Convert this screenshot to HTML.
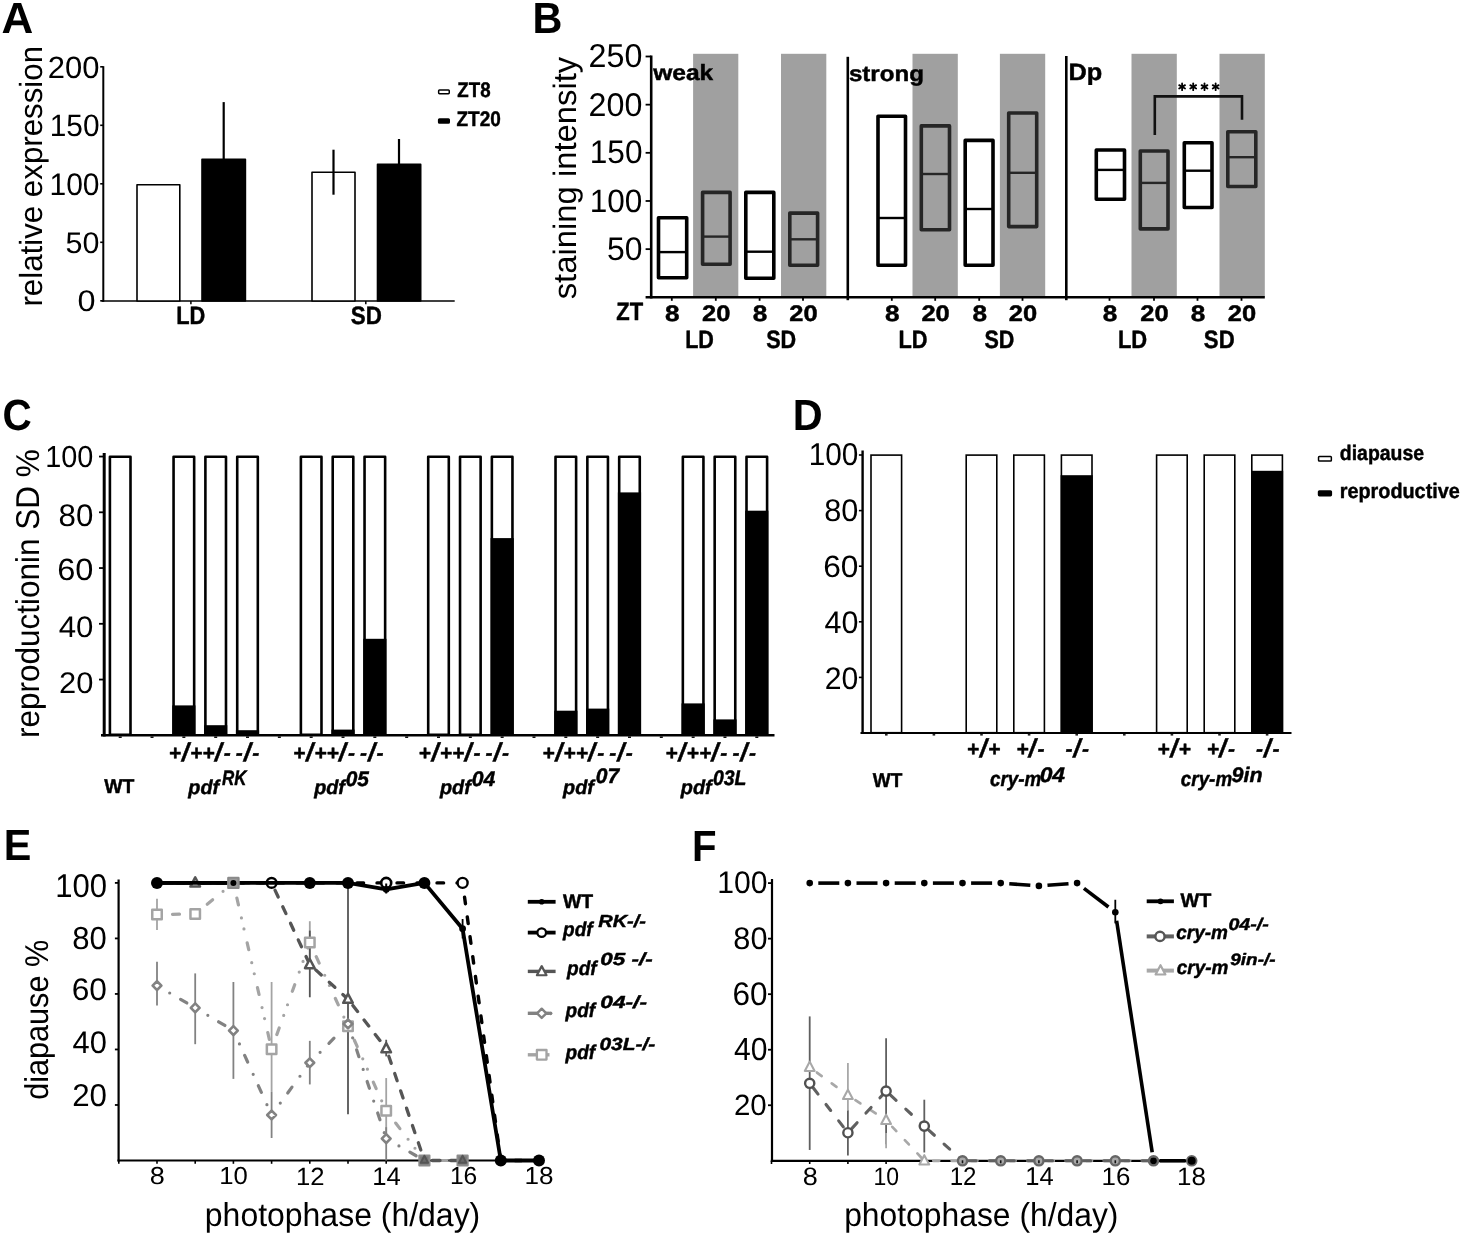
<!DOCTYPE html>
<html><head><meta charset="utf-8"><title>Figure</title>
<style>
html,body{margin:0;padding:0;background:#fff;}
svg{display:block;filter:grayscale(1);}
svg text{font-family:"Liberation Sans", sans-serif;font-kerning:none;}
</style></head>
<body>
<svg width="1462" height="1237" viewBox="0 0 1462 1237" text-rendering="geometricPrecision">
<rect x="0" y="0" width="1462" height="1237" fill="#fff"/>
<text x="1.41" y="32.50" font-size="43.6" font-weight="bold" textLength="31.75" lengthAdjust="spacingAndGlyphs">A</text>
<text x="532.44" y="32.60" font-size="43.6" font-weight="bold" textLength="29.84" lengthAdjust="spacingAndGlyphs">B</text>
<text x="2.44" y="430.00" font-size="43.6" font-weight="bold" textLength="29.27" lengthAdjust="spacingAndGlyphs">C</text>
<text x="792.83" y="430.00" font-size="43.6" font-weight="bold" textLength="29.91" lengthAdjust="spacingAndGlyphs">D</text>
<text x="3.83" y="860.00" font-size="43.6" font-weight="bold" textLength="27.58" lengthAdjust="spacingAndGlyphs">E</text>
<text x="692.11" y="860.50" font-size="43.6" font-weight="bold" textLength="24.56" lengthAdjust="spacingAndGlyphs">F</text>
<line x1="103.30" y1="66.20" x2="103.30" y2="301.80" stroke="#000" stroke-width="2" />
<line x1="100.20" y1="300.80" x2="103.30" y2="300.80" stroke="#000" stroke-width="1.6" />
<line x1="100.20" y1="242.30" x2="103.30" y2="242.30" stroke="#000" stroke-width="1.6" />
<line x1="100.20" y1="183.80" x2="103.30" y2="183.80" stroke="#000" stroke-width="1.6" />
<line x1="100.20" y1="125.30" x2="103.30" y2="125.30" stroke="#000" stroke-width="1.6" />
<line x1="100.20" y1="66.80" x2="103.30" y2="66.80" stroke="#000" stroke-width="1.6" />
<text x="47.74" y="77.60" font-size="30.79" textLength="51.67" lengthAdjust="spacingAndGlyphs">200</text>
<text x="49.72" y="136.10" font-size="30.93" textLength="49.84" lengthAdjust="spacingAndGlyphs">150</text>
<text x="49.51" y="194.60" font-size="31.21" textLength="50.06" lengthAdjust="spacingAndGlyphs">100</text>
<text x="65.48" y="252.51" font-size="29.8" textLength="33.91" lengthAdjust="spacingAndGlyphs">50</text>
<text x="77.63" y="311.41" font-size="29.8" textLength="18.03" lengthAdjust="spacingAndGlyphs">0</text>
<line x1="101.50" y1="301.00" x2="454.70" y2="301.00" stroke="#000" stroke-width="1.7" />
<line x1="190.90" y1="301.00" x2="190.90" y2="304.20" stroke="#000" stroke-width="1.5" />
<line x1="365.80" y1="301.00" x2="365.80" y2="304.20" stroke="#000" stroke-width="1.5" />
<line x1="223.70" y1="102.10" x2="223.70" y2="160.00" stroke="#000" stroke-width="2.2" />
<line x1="399.00" y1="139.00" x2="399.00" y2="165.00" stroke="#000" stroke-width="2.2" />
<rect x="137.00" y="184.80" width="42.80" height="116.20" fill="#fff" stroke="#000" stroke-width="1.6" stroke-linejoin="round"/>
<rect x="202.00" y="159.20" width="43.40" height="141.80" fill="#000" stroke="#000" stroke-width="1.6" stroke-linejoin="round"/>
<rect x="312.00" y="172.20" width="43.00" height="128.80" fill="#fff" stroke="#000" stroke-width="1.6" stroke-linejoin="round"/>
<rect x="377.50" y="164.40" width="43.20" height="136.60" fill="#000" stroke="#000" stroke-width="1.6" stroke-linejoin="round"/>
<line x1="333.50" y1="149.70" x2="333.50" y2="194.70" stroke="#000" stroke-width="2.2" />
<text x="176.24" y="324.20" font-size="25" font-weight="bold" textLength="29.07" lengthAdjust="spacingAndGlyphs" stroke="#000" stroke-width="0.45" stroke-linejoin="round">LD</text>
<text x="350.76" y="324.20" font-size="25" font-weight="bold" textLength="31.08" lengthAdjust="spacingAndGlyphs" stroke="#000" stroke-width="0.45" stroke-linejoin="round">SD</text>
<text x="0" y="0" font-size="32" textLength="260.61" lengthAdjust="spacingAndGlyphs" transform="translate(42.40,306.58) rotate(-90)">relative expression</text>
<rect x="438.65" y="90.05" width="10.60" height="3.60" fill="#fff" stroke="#000" stroke-width="1.5" rx="0.8"/>
<rect x="438.65" y="119.05" width="10.60" height="4.00" fill="#000" stroke="#000" stroke-width="1.5" rx="0.8"/>
<text x="457.34" y="96.70" font-size="21" font-weight="bold" textLength="33.23" lengthAdjust="spacingAndGlyphs" stroke="#000" stroke-width="0.45" stroke-linejoin="round">ZT8</text>
<text x="456.43" y="126.20" font-size="21" font-weight="bold" textLength="44.35" lengthAdjust="spacingAndGlyphs" stroke="#000" stroke-width="0.45" stroke-linejoin="round">ZT20</text>
<rect x="693.10" y="53.80" width="45.20" height="243.50" fill="#a0a0a0"/>
<rect x="781.00" y="53.80" width="45.30" height="243.50" fill="#a0a0a0"/>
<rect x="912.50" y="53.80" width="45.30" height="243.50" fill="#a0a0a0"/>
<rect x="999.90" y="53.80" width="45.30" height="243.50" fill="#a0a0a0"/>
<rect x="1131.50" y="53.80" width="45.30" height="243.50" fill="#a0a0a0"/>
<rect x="1219.50" y="53.80" width="45.30" height="243.50" fill="#a0a0a0"/>
<line x1="651.20" y1="55.50" x2="651.20" y2="298.50" stroke="#000" stroke-width="2.6" />
<line x1="645.60" y1="249.14" x2="651.20" y2="249.14" stroke="#000" stroke-width="1.8" />
<line x1="645.60" y1="200.98" x2="651.20" y2="200.98" stroke="#000" stroke-width="1.8" />
<line x1="645.60" y1="152.82" x2="651.20" y2="152.82" stroke="#000" stroke-width="1.8" />
<line x1="645.60" y1="104.66" x2="651.20" y2="104.66" stroke="#000" stroke-width="1.8" />
<line x1="645.60" y1="56.50" x2="651.20" y2="56.50" stroke="#000" stroke-width="1.8" />
<text x="588.58" y="67.18" font-size="33.05" textLength="53.78" lengthAdjust="spacingAndGlyphs">250</text>
<text x="588.58" y="115.88" font-size="32.91" textLength="53.78" lengthAdjust="spacingAndGlyphs">200</text>
<text x="589.79" y="163.28" font-size="32.63" textLength="52.74" lengthAdjust="spacingAndGlyphs">150</text>
<text x="589.70" y="212.08" font-size="32.34" textLength="52.64" lengthAdjust="spacingAndGlyphs">100</text>
<text x="606.93" y="259.78" font-size="32.77" textLength="35.42" lengthAdjust="spacingAndGlyphs">50</text>
<line x1="645.60" y1="297.30" x2="1264.80" y2="297.30" stroke="#000" stroke-width="2.6" />
<line x1="847.80" y1="56.80" x2="847.80" y2="300.20" stroke="#000" stroke-width="2.6" />
<line x1="1066.30" y1="56.00" x2="1066.30" y2="300.20" stroke="#000" stroke-width="2.6" />
<rect x="658.50" y="217.80" width="28.20" height="59.90" fill="#fff" stroke="#000" stroke-width="3.6" stroke-linejoin="round"/>
<line x1="658.70" y1="252.10" x2="686.50" y2="252.10" stroke="#000" stroke-width="2.4" />
<rect x="702.60" y="192.40" width="27.50" height="71.90" fill="#a0a0a0" stroke="#262626" stroke-width="3.6" stroke-linejoin="round"/>
<line x1="702.80" y1="236.60" x2="729.90" y2="236.60" stroke="#262626" stroke-width="2.4" />
<rect x="745.80" y="192.40" width="28.00" height="85.80" fill="#fff" stroke="#000" stroke-width="3.6" stroke-linejoin="round"/>
<line x1="746.00" y1="251.70" x2="773.60" y2="251.70" stroke="#000" stroke-width="2.4" />
<rect x="789.80" y="213.10" width="27.80" height="52.10" fill="#a0a0a0" stroke="#262626" stroke-width="3.6" stroke-linejoin="round"/>
<line x1="790.00" y1="239.30" x2="817.40" y2="239.30" stroke="#262626" stroke-width="2.4" />
<rect x="878.00" y="116.30" width="27.50" height="148.90" fill="#fff" stroke="#000" stroke-width="3.6" stroke-linejoin="round"/>
<line x1="878.20" y1="218.00" x2="905.30" y2="218.00" stroke="#000" stroke-width="2.4" />
<rect x="921.30" y="125.90" width="28.20" height="103.80" fill="#a0a0a0" stroke="#262626" stroke-width="3.6" stroke-linejoin="round"/>
<line x1="921.50" y1="174.00" x2="949.30" y2="174.00" stroke="#262626" stroke-width="2.4" />
<rect x="965.20" y="140.40" width="27.80" height="124.80" fill="#fff" stroke="#000" stroke-width="3.6" stroke-linejoin="round"/>
<line x1="965.40" y1="209.00" x2="992.80" y2="209.00" stroke="#000" stroke-width="2.4" />
<rect x="1008.70" y="113.00" width="28.00" height="113.60" fill="#a0a0a0" stroke="#262626" stroke-width="3.6" stroke-linejoin="round"/>
<line x1="1008.90" y1="172.80" x2="1036.50" y2="172.80" stroke="#262626" stroke-width="2.4" />
<rect x="1096.30" y="150.00" width="28.20" height="49.20" fill="#fff" stroke="#000" stroke-width="3.6" stroke-linejoin="round"/>
<line x1="1096.50" y1="169.90" x2="1124.30" y2="169.90" stroke="#000" stroke-width="2.4" />
<rect x="1140.30" y="151.00" width="27.70" height="77.90" fill="#a0a0a0" stroke="#262626" stroke-width="3.6" stroke-linejoin="round"/>
<line x1="1140.50" y1="182.90" x2="1167.80" y2="182.90" stroke="#262626" stroke-width="2.4" />
<rect x="1184.30" y="142.80" width="27.70" height="64.70" fill="#fff" stroke="#000" stroke-width="3.6" stroke-linejoin="round"/>
<line x1="1184.50" y1="170.70" x2="1211.80" y2="170.70" stroke="#000" stroke-width="2.4" />
<rect x="1227.80" y="131.80" width="28.00" height="54.70" fill="#a0a0a0" stroke="#262626" stroke-width="3.6" stroke-linejoin="round"/>
<line x1="1228.00" y1="157.20" x2="1255.60" y2="157.20" stroke="#262626" stroke-width="2.4" />
<line x1="671.80" y1="297.30" x2="671.80" y2="300.80" stroke="#000" stroke-width="1.8" />
<line x1="715.80" y1="297.30" x2="715.80" y2="300.80" stroke="#000" stroke-width="1.8" />
<line x1="759.60" y1="297.30" x2="759.60" y2="300.80" stroke="#000" stroke-width="1.8" />
<line x1="803.00" y1="297.30" x2="803.00" y2="300.80" stroke="#000" stroke-width="1.8" />
<line x1="891.80" y1="297.30" x2="891.80" y2="300.80" stroke="#000" stroke-width="1.8" />
<line x1="935.20" y1="297.30" x2="935.20" y2="300.80" stroke="#000" stroke-width="1.8" />
<line x1="979.20" y1="297.30" x2="979.20" y2="300.80" stroke="#000" stroke-width="1.8" />
<line x1="1022.50" y1="297.30" x2="1022.50" y2="300.80" stroke="#000" stroke-width="1.8" />
<line x1="1109.50" y1="297.30" x2="1109.50" y2="300.80" stroke="#000" stroke-width="1.8" />
<line x1="1154.00" y1="297.30" x2="1154.00" y2="300.80" stroke="#000" stroke-width="1.8" />
<line x1="1197.50" y1="297.30" x2="1197.50" y2="300.80" stroke="#000" stroke-width="1.8" />
<line x1="1241.50" y1="297.30" x2="1241.50" y2="300.80" stroke="#000" stroke-width="1.8" />
<text x="665.07" y="320.80" font-size="22.5" font-weight="bold" textLength="14.53" lengthAdjust="spacingAndGlyphs" stroke="#000" stroke-width="0.45" stroke-linejoin="round">8</text>
<text x="702.02" y="320.80" font-size="22.5" font-weight="bold" textLength="28.33" lengthAdjust="spacingAndGlyphs" stroke="#000" stroke-width="0.45" stroke-linejoin="round">20</text>
<text x="752.87" y="320.80" font-size="22.5" font-weight="bold" textLength="14.53" lengthAdjust="spacingAndGlyphs" stroke="#000" stroke-width="0.45" stroke-linejoin="round">8</text>
<text x="789.22" y="320.80" font-size="22.5" font-weight="bold" textLength="28.33" lengthAdjust="spacingAndGlyphs" stroke="#000" stroke-width="0.45" stroke-linejoin="round">20</text>
<text x="885.07" y="320.80" font-size="22.5" font-weight="bold" textLength="14.53" lengthAdjust="spacingAndGlyphs" stroke="#000" stroke-width="0.45" stroke-linejoin="round">8</text>
<text x="921.42" y="320.80" font-size="22.5" font-weight="bold" textLength="28.33" lengthAdjust="spacingAndGlyphs" stroke="#000" stroke-width="0.45" stroke-linejoin="round">20</text>
<text x="972.47" y="320.80" font-size="22.5" font-weight="bold" textLength="14.53" lengthAdjust="spacingAndGlyphs" stroke="#000" stroke-width="0.45" stroke-linejoin="round">8</text>
<text x="1008.72" y="320.80" font-size="22.5" font-weight="bold" textLength="28.33" lengthAdjust="spacingAndGlyphs" stroke="#000" stroke-width="0.45" stroke-linejoin="round">20</text>
<text x="1102.77" y="320.80" font-size="22.5" font-weight="bold" textLength="14.53" lengthAdjust="spacingAndGlyphs" stroke="#000" stroke-width="0.45" stroke-linejoin="round">8</text>
<text x="1140.22" y="320.80" font-size="22.5" font-weight="bold" textLength="28.33" lengthAdjust="spacingAndGlyphs" stroke="#000" stroke-width="0.45" stroke-linejoin="round">20</text>
<text x="1190.77" y="320.80" font-size="22.5" font-weight="bold" textLength="14.53" lengthAdjust="spacingAndGlyphs" stroke="#000" stroke-width="0.45" stroke-linejoin="round">8</text>
<text x="1227.72" y="320.80" font-size="22.5" font-weight="bold" textLength="28.33" lengthAdjust="spacingAndGlyphs" stroke="#000" stroke-width="0.45" stroke-linejoin="round">20</text>
<text x="616.34" y="320.40" font-size="25" font-weight="bold" textLength="26.89" lengthAdjust="spacingAndGlyphs" stroke="#000" stroke-width="0.45" stroke-linejoin="round">ZT</text>
<text x="685.16" y="348.00" font-size="25" font-weight="bold" textLength="28.75" lengthAdjust="spacingAndGlyphs" stroke="#000" stroke-width="0.45" stroke-linejoin="round">LD</text>
<text x="898.54" y="348.00" font-size="25" font-weight="bold" textLength="29.07" lengthAdjust="spacingAndGlyphs" stroke="#000" stroke-width="0.45" stroke-linejoin="round">LD</text>
<text x="1117.93" y="348.00" font-size="25" font-weight="bold" textLength="29.29" lengthAdjust="spacingAndGlyphs" stroke="#000" stroke-width="0.45" stroke-linejoin="round">LD</text>
<text x="766.18" y="348.00" font-size="25" font-weight="bold" textLength="30.03" lengthAdjust="spacingAndGlyphs" stroke="#000" stroke-width="0.45" stroke-linejoin="round">SD</text>
<text x="984.38" y="348.00" font-size="25" font-weight="bold" textLength="29.93" lengthAdjust="spacingAndGlyphs" stroke="#000" stroke-width="0.45" stroke-linejoin="round">SD</text>
<text x="1203.86" y="348.00" font-size="25" font-weight="bold" textLength="30.77" lengthAdjust="spacingAndGlyphs" stroke="#000" stroke-width="0.45" stroke-linejoin="round">SD</text>
<text x="653.17" y="80.00" font-size="22" font-weight="bold" textLength="60.10" lengthAdjust="spacingAndGlyphs" stroke="#000" stroke-width="0.45" stroke-linejoin="round">weak</text>
<text x="848.95" y="81.40" font-size="22" font-weight="bold" textLength="74.96" lengthAdjust="spacingAndGlyphs" stroke="#000" stroke-width="0.45" stroke-linejoin="round">strong</text>
<text x="1068.51" y="80.10" font-size="23.5" font-weight="bold" textLength="33.73" lengthAdjust="spacingAndGlyphs" stroke="#000" stroke-width="0.45" stroke-linejoin="round">Dp</text>
<text x="0" y="0" font-size="32.4" textLength="242.58" lengthAdjust="spacingAndGlyphs" transform="translate(575.80,299.31) rotate(-90)">staining intensity</text>
<polyline points="1154.8,135 1154.8,96.4 1242,96.4 1242,119.7" fill="none" stroke="#111" stroke-width="2.6"/>
<line x1="1182.10" y1="83.40" x2="1182.10" y2="90.20" stroke="#000" stroke-width="1.8" stroke-linecap="round"/>
<line x1="1179.16" y1="85.10" x2="1185.04" y2="88.50" stroke="#000" stroke-width="1.8" stroke-linecap="round"/>
<line x1="1179.16" y1="88.50" x2="1185.04" y2="85.10" stroke="#000" stroke-width="1.8" stroke-linecap="round"/>
<line x1="1193.20" y1="83.40" x2="1193.20" y2="90.20" stroke="#000" stroke-width="1.8" stroke-linecap="round"/>
<line x1="1190.26" y1="85.10" x2="1196.14" y2="88.50" stroke="#000" stroke-width="1.8" stroke-linecap="round"/>
<line x1="1190.26" y1="88.50" x2="1196.14" y2="85.10" stroke="#000" stroke-width="1.8" stroke-linecap="round"/>
<line x1="1204.50" y1="83.40" x2="1204.50" y2="90.20" stroke="#000" stroke-width="1.8" stroke-linecap="round"/>
<line x1="1201.56" y1="85.10" x2="1207.44" y2="88.50" stroke="#000" stroke-width="1.8" stroke-linecap="round"/>
<line x1="1201.56" y1="88.50" x2="1207.44" y2="85.10" stroke="#000" stroke-width="1.8" stroke-linecap="round"/>
<line x1="1215.65" y1="83.40" x2="1215.65" y2="90.20" stroke="#000" stroke-width="1.8" stroke-linecap="round"/>
<line x1="1212.71" y1="85.10" x2="1218.59" y2="88.50" stroke="#000" stroke-width="1.8" stroke-linecap="round"/>
<line x1="1212.71" y1="88.50" x2="1218.59" y2="85.10" stroke="#000" stroke-width="1.8" stroke-linecap="round"/>
<line x1="104.20" y1="453.00" x2="104.20" y2="736.50" stroke="#000" stroke-width="3.0" />
<line x1="99.00" y1="679.55" x2="104.20" y2="679.55" stroke="#000" stroke-width="1.8" />
<line x1="99.00" y1="623.80" x2="104.20" y2="623.80" stroke="#000" stroke-width="1.8" />
<line x1="99.00" y1="568.05" x2="104.20" y2="568.05" stroke="#000" stroke-width="1.8" />
<line x1="99.00" y1="512.30" x2="104.20" y2="512.30" stroke="#000" stroke-width="1.8" />
<line x1="99.00" y1="456.55" x2="104.20" y2="456.55" stroke="#000" stroke-width="1.8" />
<text x="45.20" y="467.10" font-size="30.37" textLength="48.12" lengthAdjust="spacingAndGlyphs">100</text>
<text x="58.64" y="526.00" font-size="31.21" textLength="34.78" lengthAdjust="spacingAndGlyphs">80</text>
<text x="57.25" y="580.30" font-size="30.65" textLength="36.23" lengthAdjust="spacingAndGlyphs">60</text>
<text x="58.68" y="636.51" font-size="29.66" textLength="34.74" lengthAdjust="spacingAndGlyphs">40</text>
<text x="59.05" y="693.41" font-size="29.8" textLength="34.36" lengthAdjust="spacingAndGlyphs">20</text>
<line x1="101.00" y1="735.30" x2="774.50" y2="735.30" stroke="#000" stroke-width="2.6" />
<line x1="120.20" y1="736.40" x2="120.20" y2="738.00" stroke="#111" stroke-width="3.0" />
<line x1="152.03" y1="736.40" x2="152.03" y2="738.00" stroke="#111" stroke-width="3.0" />
<line x1="183.86" y1="736.40" x2="183.86" y2="738.00" stroke="#111" stroke-width="3.0" />
<line x1="215.69" y1="736.40" x2="215.69" y2="738.00" stroke="#111" stroke-width="3.0" />
<line x1="247.52" y1="736.40" x2="247.52" y2="738.00" stroke="#111" stroke-width="3.0" />
<line x1="279.35" y1="736.40" x2="279.35" y2="738.00" stroke="#111" stroke-width="3.0" />
<line x1="311.18" y1="736.40" x2="311.18" y2="738.00" stroke="#111" stroke-width="3.0" />
<line x1="343.01" y1="736.40" x2="343.01" y2="738.00" stroke="#111" stroke-width="3.0" />
<line x1="374.84" y1="736.40" x2="374.84" y2="738.00" stroke="#111" stroke-width="3.0" />
<line x1="406.67" y1="736.40" x2="406.67" y2="738.00" stroke="#111" stroke-width="3.0" />
<line x1="438.50" y1="736.40" x2="438.50" y2="738.00" stroke="#111" stroke-width="3.0" />
<line x1="470.33" y1="736.40" x2="470.33" y2="738.00" stroke="#111" stroke-width="3.0" />
<line x1="502.16" y1="736.40" x2="502.16" y2="738.00" stroke="#111" stroke-width="3.0" />
<line x1="533.99" y1="736.40" x2="533.99" y2="738.00" stroke="#111" stroke-width="3.0" />
<line x1="565.82" y1="736.40" x2="565.82" y2="738.00" stroke="#111" stroke-width="3.0" />
<line x1="597.65" y1="736.40" x2="597.65" y2="738.00" stroke="#111" stroke-width="3.0" />
<line x1="629.48" y1="736.40" x2="629.48" y2="738.00" stroke="#111" stroke-width="3.0" />
<line x1="661.31" y1="736.40" x2="661.31" y2="738.00" stroke="#111" stroke-width="3.0" />
<line x1="693.14" y1="736.40" x2="693.14" y2="738.00" stroke="#111" stroke-width="3.0" />
<line x1="724.97" y1="736.40" x2="724.97" y2="738.00" stroke="#111" stroke-width="3.0" />
<line x1="756.80" y1="736.40" x2="756.80" y2="738.00" stroke="#111" stroke-width="3.0" />
<rect x="109.90" y="456.70" width="20.60" height="278.00" fill="#fff" stroke="#000" stroke-width="2.6" stroke-linejoin="round"/>
<rect x="173.56" y="456.70" width="20.60" height="278.00" fill="#fff" stroke="#000" stroke-width="2.6" stroke-linejoin="round"/>
<rect x="172.26" y="705.40" width="23.20" height="29.90" fill="#000"/>
<rect x="205.39" y="456.70" width="20.60" height="278.00" fill="#fff" stroke="#000" stroke-width="2.6" stroke-linejoin="round"/>
<rect x="204.09" y="725.20" width="23.20" height="10.10" fill="#000"/>
<rect x="237.22" y="456.70" width="20.60" height="278.00" fill="#fff" stroke="#000" stroke-width="2.6" stroke-linejoin="round"/>
<rect x="235.92" y="730.20" width="23.20" height="5.10" fill="#000"/>
<rect x="300.88" y="456.70" width="20.60" height="278.00" fill="#fff" stroke="#000" stroke-width="2.6" stroke-linejoin="round"/>
<rect x="332.71" y="456.70" width="20.60" height="278.00" fill="#fff" stroke="#000" stroke-width="2.6" stroke-linejoin="round"/>
<rect x="331.41" y="729.60" width="23.20" height="5.70" fill="#000"/>
<rect x="364.54" y="456.70" width="20.60" height="278.00" fill="#fff" stroke="#000" stroke-width="2.6" stroke-linejoin="round"/>
<rect x="363.24" y="638.80" width="23.20" height="96.50" fill="#000"/>
<rect x="428.20" y="456.70" width="20.60" height="278.00" fill="#fff" stroke="#000" stroke-width="2.6" stroke-linejoin="round"/>
<rect x="460.03" y="456.70" width="20.60" height="278.00" fill="#fff" stroke="#000" stroke-width="2.6" stroke-linejoin="round"/>
<rect x="491.86" y="456.70" width="20.60" height="278.00" fill="#fff" stroke="#000" stroke-width="2.6" stroke-linejoin="round"/>
<rect x="490.56" y="538.10" width="23.20" height="197.20" fill="#000"/>
<rect x="555.52" y="456.70" width="20.60" height="278.00" fill="#fff" stroke="#000" stroke-width="2.6" stroke-linejoin="round"/>
<rect x="554.22" y="710.70" width="23.20" height="24.60" fill="#000"/>
<rect x="587.35" y="456.70" width="20.60" height="278.00" fill="#fff" stroke="#000" stroke-width="2.6" stroke-linejoin="round"/>
<rect x="586.05" y="708.60" width="23.20" height="26.70" fill="#000"/>
<rect x="619.18" y="456.70" width="20.60" height="278.00" fill="#fff" stroke="#000" stroke-width="2.6" stroke-linejoin="round"/>
<rect x="617.88" y="492.40" width="23.20" height="242.90" fill="#000"/>
<rect x="682.84" y="456.70" width="20.60" height="278.00" fill="#fff" stroke="#000" stroke-width="2.6" stroke-linejoin="round"/>
<rect x="681.54" y="703.40" width="23.20" height="31.90" fill="#000"/>
<rect x="714.67" y="456.70" width="20.60" height="278.00" fill="#fff" stroke="#000" stroke-width="2.6" stroke-linejoin="round"/>
<rect x="713.37" y="719.40" width="23.20" height="15.90" fill="#000"/>
<rect x="746.50" y="456.70" width="20.60" height="278.00" fill="#fff" stroke="#000" stroke-width="2.6" stroke-linejoin="round"/>
<rect x="745.20" y="510.70" width="23.20" height="224.60" fill="#000"/>
<text x="0" y="0" font-size="33" textLength="288.91" lengthAdjust="spacingAndGlyphs" transform="translate(38.60,738.09) rotate(-90)">reproductionin SD %</text>
<text x="168.71" y="759.80" font-size="21" font-weight="bold" font-style="italic" stroke="#000" stroke-width="0.45" stroke-linejoin="round">+</text>
<text x="181.72" y="761.30" font-size="25.8" font-weight="bold" font-style="italic" stroke="#000" stroke-width="0.45" stroke-linejoin="round">/</text>
<text x="189.91" y="759.80" font-size="21" font-weight="bold" font-style="italic" stroke="#000" stroke-width="0.45" stroke-linejoin="round">+</text>
<text x="202.34" y="759.80" font-size="21" font-weight="bold" font-style="italic" stroke="#000" stroke-width="0.45" stroke-linejoin="round">+</text>
<text x="214.65" y="761.30" font-size="25.8" font-weight="bold" font-style="italic" stroke="#000" stroke-width="0.45" stroke-linejoin="round">/</text>
<text x="223.71" y="759.80" font-size="21" font-weight="bold" font-style="italic" stroke="#000" stroke-width="0.45" stroke-linejoin="round">-</text>
<text x="235.84" y="759.80" font-size="21" font-weight="bold" font-style="italic" stroke="#000" stroke-width="0.45" stroke-linejoin="round">-</text>
<text x="243.68" y="761.30" font-size="25.8" font-weight="bold" font-style="italic" stroke="#000" stroke-width="0.45" stroke-linejoin="round">/</text>
<text x="252.34" y="759.80" font-size="21" font-weight="bold" font-style="italic" stroke="#000" stroke-width="0.45" stroke-linejoin="round">-</text>
<text x="292.93" y="759.80" font-size="21" font-weight="bold" font-style="italic" stroke="#000" stroke-width="0.45" stroke-linejoin="round">+</text>
<text x="305.94" y="761.30" font-size="25.8" font-weight="bold" font-style="italic" stroke="#000" stroke-width="0.45" stroke-linejoin="round">/</text>
<text x="314.13" y="759.80" font-size="21" font-weight="bold" font-style="italic" stroke="#000" stroke-width="0.45" stroke-linejoin="round">+</text>
<text x="326.56" y="759.80" font-size="21" font-weight="bold" font-style="italic" stroke="#000" stroke-width="0.45" stroke-linejoin="round">+</text>
<text x="338.87" y="761.30" font-size="25.8" font-weight="bold" font-style="italic" stroke="#000" stroke-width="0.45" stroke-linejoin="round">/</text>
<text x="347.93" y="759.80" font-size="21" font-weight="bold" font-style="italic" stroke="#000" stroke-width="0.45" stroke-linejoin="round">-</text>
<text x="360.06" y="759.80" font-size="21" font-weight="bold" font-style="italic" stroke="#000" stroke-width="0.45" stroke-linejoin="round">-</text>
<text x="367.90" y="761.30" font-size="25.8" font-weight="bold" font-style="italic" stroke="#000" stroke-width="0.45" stroke-linejoin="round">/</text>
<text x="376.56" y="759.80" font-size="21" font-weight="bold" font-style="italic" stroke="#000" stroke-width="0.45" stroke-linejoin="round">-</text>
<text x="418.45" y="759.80" font-size="21" font-weight="bold" font-style="italic" stroke="#000" stroke-width="0.45" stroke-linejoin="round">+</text>
<text x="431.46" y="761.30" font-size="25.8" font-weight="bold" font-style="italic" stroke="#000" stroke-width="0.45" stroke-linejoin="round">/</text>
<text x="439.65" y="759.80" font-size="21" font-weight="bold" font-style="italic" stroke="#000" stroke-width="0.45" stroke-linejoin="round">+</text>
<text x="452.08" y="759.80" font-size="21" font-weight="bold" font-style="italic" stroke="#000" stroke-width="0.45" stroke-linejoin="round">+</text>
<text x="464.39" y="761.30" font-size="25.8" font-weight="bold" font-style="italic" stroke="#000" stroke-width="0.45" stroke-linejoin="round">/</text>
<text x="473.45" y="759.80" font-size="21" font-weight="bold" font-style="italic" stroke="#000" stroke-width="0.45" stroke-linejoin="round">-</text>
<text x="485.58" y="759.80" font-size="21" font-weight="bold" font-style="italic" stroke="#000" stroke-width="0.45" stroke-linejoin="round">-</text>
<text x="493.42" y="761.30" font-size="25.8" font-weight="bold" font-style="italic" stroke="#000" stroke-width="0.45" stroke-linejoin="round">/</text>
<text x="502.08" y="759.80" font-size="21" font-weight="bold" font-style="italic" stroke="#000" stroke-width="0.45" stroke-linejoin="round">-</text>
<text x="542.17" y="759.80" font-size="21" font-weight="bold" font-style="italic" stroke="#000" stroke-width="0.45" stroke-linejoin="round">+</text>
<text x="555.18" y="761.30" font-size="25.8" font-weight="bold" font-style="italic" stroke="#000" stroke-width="0.45" stroke-linejoin="round">/</text>
<text x="563.37" y="759.80" font-size="21" font-weight="bold" font-style="italic" stroke="#000" stroke-width="0.45" stroke-linejoin="round">+</text>
<text x="575.80" y="759.80" font-size="21" font-weight="bold" font-style="italic" stroke="#000" stroke-width="0.45" stroke-linejoin="round">+</text>
<text x="588.11" y="761.30" font-size="25.8" font-weight="bold" font-style="italic" stroke="#000" stroke-width="0.45" stroke-linejoin="round">/</text>
<text x="597.17" y="759.80" font-size="21" font-weight="bold" font-style="italic" stroke="#000" stroke-width="0.45" stroke-linejoin="round">-</text>
<text x="609.30" y="759.80" font-size="21" font-weight="bold" font-style="italic" stroke="#000" stroke-width="0.45" stroke-linejoin="round">-</text>
<text x="617.14" y="761.30" font-size="25.8" font-weight="bold" font-style="italic" stroke="#000" stroke-width="0.45" stroke-linejoin="round">/</text>
<text x="625.80" y="759.80" font-size="21" font-weight="bold" font-style="italic" stroke="#000" stroke-width="0.45" stroke-linejoin="round">-</text>
<text x="665.29" y="759.80" font-size="21" font-weight="bold" font-style="italic" stroke="#000" stroke-width="0.45" stroke-linejoin="round">+</text>
<text x="678.30" y="761.30" font-size="25.8" font-weight="bold" font-style="italic" stroke="#000" stroke-width="0.45" stroke-linejoin="round">/</text>
<text x="686.49" y="759.80" font-size="21" font-weight="bold" font-style="italic" stroke="#000" stroke-width="0.45" stroke-linejoin="round">+</text>
<text x="698.92" y="759.80" font-size="21" font-weight="bold" font-style="italic" stroke="#000" stroke-width="0.45" stroke-linejoin="round">+</text>
<text x="711.23" y="761.30" font-size="25.8" font-weight="bold" font-style="italic" stroke="#000" stroke-width="0.45" stroke-linejoin="round">/</text>
<text x="720.29" y="759.80" font-size="21" font-weight="bold" font-style="italic" stroke="#000" stroke-width="0.45" stroke-linejoin="round">-</text>
<text x="732.42" y="759.80" font-size="21" font-weight="bold" font-style="italic" stroke="#000" stroke-width="0.45" stroke-linejoin="round">-</text>
<text x="740.26" y="761.30" font-size="25.8" font-weight="bold" font-style="italic" stroke="#000" stroke-width="0.45" stroke-linejoin="round">/</text>
<text x="748.92" y="759.80" font-size="21" font-weight="bold" font-style="italic" stroke="#000" stroke-width="0.45" stroke-linejoin="round">-</text>
<text x="104.28" y="793.10" font-size="20" font-weight="bold" textLength="30.13" lengthAdjust="spacingAndGlyphs" stroke="#000" stroke-width="0.45" stroke-linejoin="round">WT</text>
<text x="188.34" y="793.60" font-size="20" font-weight="bold" font-style="italic" textLength="30.81" lengthAdjust="spacingAndGlyphs" stroke="#000" stroke-width="0.45" stroke-linejoin="round">pdf</text>
<text x="222.10" y="785.00" font-size="21" font-weight="bold" font-style="italic" textLength="24.47" lengthAdjust="spacingAndGlyphs" stroke="#000" stroke-width="0.45" stroke-linejoin="round">RK</text>
<text x="314.14" y="793.60" font-size="20" font-weight="bold" font-style="italic" textLength="30.81" lengthAdjust="spacingAndGlyphs" stroke="#000" stroke-width="0.45" stroke-linejoin="round">pdf</text>
<text x="345.63" y="785.50" font-size="21" font-weight="bold" font-style="italic" textLength="23.22" lengthAdjust="spacingAndGlyphs" stroke="#000" stroke-width="0.45" stroke-linejoin="round">05</text>
<text x="439.94" y="793.60" font-size="20" font-weight="bold" font-style="italic" textLength="30.81" lengthAdjust="spacingAndGlyphs" stroke="#000" stroke-width="0.45" stroke-linejoin="round">pdf</text>
<text x="471.72" y="785.80" font-size="21" font-weight="bold" font-style="italic" textLength="23.54" lengthAdjust="spacingAndGlyphs" stroke="#000" stroke-width="0.45" stroke-linejoin="round">04</text>
<text x="563.04" y="793.60" font-size="20" font-weight="bold" font-style="italic" textLength="30.81" lengthAdjust="spacingAndGlyphs" stroke="#000" stroke-width="0.45" stroke-linejoin="round">pdf</text>
<text x="595.82" y="783.30" font-size="21" font-weight="bold" font-style="italic" textLength="23.45" lengthAdjust="spacingAndGlyphs" stroke="#000" stroke-width="0.45" stroke-linejoin="round">07</text>
<text x="680.84" y="793.60" font-size="20" font-weight="bold" font-style="italic" textLength="30.81" lengthAdjust="spacingAndGlyphs" stroke="#000" stroke-width="0.45" stroke-linejoin="round">pdf</text>
<text x="712.89" y="785.40" font-size="21" font-weight="bold" font-style="italic" textLength="33.55" lengthAdjust="spacingAndGlyphs" stroke="#000" stroke-width="0.45" stroke-linejoin="round">03L</text>
<line x1="862.60" y1="450.60" x2="862.60" y2="734.00" stroke="#000" stroke-width="2.4" />
<line x1="858.90" y1="677.40" x2="862.60" y2="677.40" stroke="#000" stroke-width="1.6" />
<line x1="858.90" y1="621.80" x2="862.60" y2="621.80" stroke="#000" stroke-width="1.6" />
<line x1="858.90" y1="566.20" x2="862.60" y2="566.20" stroke="#000" stroke-width="1.6" />
<line x1="858.90" y1="510.60" x2="862.60" y2="510.60" stroke="#000" stroke-width="1.6" />
<line x1="858.90" y1="455.00" x2="862.60" y2="455.00" stroke="#000" stroke-width="1.6" />
<text x="808.63" y="465.29" font-size="31.64" textLength="49.74" lengthAdjust="spacingAndGlyphs">100</text>
<text x="824.27" y="520.60" font-size="31.21" textLength="34.13" lengthAdjust="spacingAndGlyphs">80</text>
<text x="823.19" y="576.70" font-size="30.79" textLength="35.25" lengthAdjust="spacingAndGlyphs">60</text>
<text x="824.50" y="633.10" font-size="31.21" textLength="33.89" lengthAdjust="spacingAndGlyphs">40</text>
<text x="824.78" y="688.70" font-size="31.07" textLength="33.60" lengthAdjust="spacingAndGlyphs">20</text>
<line x1="860.50" y1="733.00" x2="1291.50" y2="733.00" stroke="#000" stroke-width="2.2" />
<line x1="886.30" y1="734.00" x2="886.30" y2="735.60" stroke="#222" stroke-width="2.6" />
<line x1="933.90" y1="734.00" x2="933.90" y2="735.60" stroke="#222" stroke-width="2.6" />
<line x1="981.50" y1="734.00" x2="981.50" y2="735.60" stroke="#222" stroke-width="2.6" />
<line x1="1029.10" y1="734.00" x2="1029.10" y2="735.60" stroke="#222" stroke-width="2.6" />
<line x1="1076.70" y1="734.00" x2="1076.70" y2="735.60" stroke="#222" stroke-width="2.6" />
<line x1="1124.30" y1="734.00" x2="1124.30" y2="735.60" stroke="#222" stroke-width="2.6" />
<line x1="1171.90" y1="734.00" x2="1171.90" y2="735.60" stroke="#222" stroke-width="2.6" />
<line x1="1219.50" y1="734.00" x2="1219.50" y2="735.60" stroke="#222" stroke-width="2.6" />
<line x1="1267.10" y1="734.00" x2="1267.10" y2="735.60" stroke="#222" stroke-width="2.6" />
<rect x="871.00" y="455.10" width="30.60" height="277.60" fill="#fff" stroke="#000" stroke-width="1.6" />
<rect x="966.20" y="455.10" width="30.60" height="277.60" fill="#fff" stroke="#000" stroke-width="1.6" />
<rect x="1013.80" y="455.10" width="30.60" height="277.60" fill="#fff" stroke="#000" stroke-width="1.6" />
<rect x="1061.40" y="455.10" width="30.60" height="277.60" fill="#fff" stroke="#000" stroke-width="1.6" />
<rect x="1060.60" y="475.20" width="32.20" height="257.80" fill="#000"/>
<rect x="1156.60" y="455.10" width="30.60" height="277.60" fill="#fff" stroke="#000" stroke-width="1.6" />
<rect x="1204.20" y="455.10" width="30.60" height="277.60" fill="#fff" stroke="#000" stroke-width="1.6" />
<rect x="1251.80" y="455.10" width="30.60" height="277.60" fill="#fff" stroke="#000" stroke-width="1.6" />
<rect x="1251.00" y="470.80" width="32.20" height="262.20" fill="#000"/>
<text x="966.85" y="755.70" font-size="21" font-weight="bold" font-style="italic" stroke="#000" stroke-width="0.45" stroke-linejoin="round">+</text>
<text x="979.86" y="757.20" font-size="25.8" font-weight="bold" font-style="italic" stroke="#000" stroke-width="0.45" stroke-linejoin="round">/</text>
<text x="988.05" y="755.70" font-size="21" font-weight="bold" font-style="italic" stroke="#000" stroke-width="0.45" stroke-linejoin="round">+</text>
<text x="1016.25" y="755.70" font-size="21" font-weight="bold" font-style="italic" stroke="#000" stroke-width="0.45" stroke-linejoin="round">+</text>
<text x="1028.56" y="757.20" font-size="25.8" font-weight="bold" font-style="italic" stroke="#000" stroke-width="0.45" stroke-linejoin="round">/</text>
<text x="1037.62" y="755.70" font-size="21" font-weight="bold" font-style="italic" stroke="#000" stroke-width="0.45" stroke-linejoin="round">-</text>
<text x="1065.52" y="755.70" font-size="21" font-weight="bold" font-style="italic" stroke="#000" stroke-width="0.45" stroke-linejoin="round">-</text>
<text x="1073.36" y="757.20" font-size="25.8" font-weight="bold" font-style="italic" stroke="#000" stroke-width="0.45" stroke-linejoin="round">/</text>
<text x="1082.02" y="755.70" font-size="21" font-weight="bold" font-style="italic" stroke="#000" stroke-width="0.45" stroke-linejoin="round">-</text>
<text x="1157.25" y="755.70" font-size="21" font-weight="bold" font-style="italic" stroke="#000" stroke-width="0.45" stroke-linejoin="round">+</text>
<text x="1170.26" y="757.20" font-size="25.8" font-weight="bold" font-style="italic" stroke="#000" stroke-width="0.45" stroke-linejoin="round">/</text>
<text x="1178.45" y="755.70" font-size="21" font-weight="bold" font-style="italic" stroke="#000" stroke-width="0.45" stroke-linejoin="round">+</text>
<text x="1206.65" y="755.70" font-size="21" font-weight="bold" font-style="italic" stroke="#000" stroke-width="0.45" stroke-linejoin="round">+</text>
<text x="1218.96" y="757.20" font-size="25.8" font-weight="bold" font-style="italic" stroke="#000" stroke-width="0.45" stroke-linejoin="round">/</text>
<text x="1228.02" y="755.70" font-size="21" font-weight="bold" font-style="italic" stroke="#000" stroke-width="0.45" stroke-linejoin="round">-</text>
<text x="1255.92" y="755.70" font-size="21" font-weight="bold" font-style="italic" stroke="#000" stroke-width="0.45" stroke-linejoin="round">-</text>
<text x="1263.76" y="757.20" font-size="25.8" font-weight="bold" font-style="italic" stroke="#000" stroke-width="0.45" stroke-linejoin="round">/</text>
<text x="1272.42" y="755.70" font-size="21" font-weight="bold" font-style="italic" stroke="#000" stroke-width="0.45" stroke-linejoin="round">-</text>
<text x="872.78" y="786.50" font-size="20" font-weight="bold" textLength="29.52" lengthAdjust="spacingAndGlyphs" stroke="#000" stroke-width="0.45" stroke-linejoin="round">WT</text>
<text x="990.02" y="786.20" font-size="21" font-weight="bold" font-style="italic" textLength="51.36" lengthAdjust="spacingAndGlyphs" stroke="#000" stroke-width="0.45" stroke-linejoin="round">cry-m</text>
<text x="1039.65" y="782.00" font-size="21" font-weight="bold" font-style="italic" textLength="25.44" lengthAdjust="spacingAndGlyphs" stroke="#000" stroke-width="0.45" stroke-linejoin="round">04</text>
<text x="1180.82" y="786.20" font-size="21" font-weight="bold" font-style="italic" textLength="51.36" lengthAdjust="spacingAndGlyphs" stroke="#000" stroke-width="0.45" stroke-linejoin="round">cry-m</text>
<text x="1231.50" y="782.00" font-size="21" font-weight="bold" font-style="italic" textLength="31.00" lengthAdjust="spacingAndGlyphs" stroke="#000" stroke-width="0.45" stroke-linejoin="round">9in</text>
<rect x="1318.55" y="456.55" width="12.80" height="4.50" fill="#fff" stroke="#000" stroke-width="1.5" rx="0.8"/>
<rect x="1318.55" y="490.95" width="12.80" height="4.70" fill="#000" stroke="#000" stroke-width="1.5" rx="0.8"/>
<text x="1339.80" y="460.20" font-size="21" font-weight="bold" textLength="84.26" lengthAdjust="spacingAndGlyphs" stroke="#000" stroke-width="0.45" stroke-linejoin="round">diapause</text>
<text x="1339.79" y="498.00" font-size="21" font-weight="bold" textLength="119.98" lengthAdjust="spacingAndGlyphs" stroke="#000" stroke-width="0.45" stroke-linejoin="round">reproductive</text>
<line x1="118.60" y1="879.50" x2="118.60" y2="1161.50" stroke="#000" stroke-width="2.2" />
<line x1="114.90" y1="1104.98" x2="118.60" y2="1104.98" stroke="#000" stroke-width="1.8" />
<line x1="114.90" y1="1049.46" x2="118.60" y2="1049.46" stroke="#000" stroke-width="1.8" />
<line x1="114.90" y1="993.94" x2="118.60" y2="993.94" stroke="#000" stroke-width="1.8" />
<line x1="114.90" y1="938.42" x2="118.60" y2="938.42" stroke="#000" stroke-width="1.8" />
<line x1="114.90" y1="882.90" x2="118.60" y2="882.90" stroke="#000" stroke-width="1.8" />
<text x="55.14" y="897.28" font-size="32.91" textLength="51.78" lengthAdjust="spacingAndGlyphs">100</text>
<text x="72.35" y="948.99" font-size="31.78" textLength="34.56" lengthAdjust="spacingAndGlyphs">80</text>
<text x="71.69" y="1000.40" font-size="31.21" textLength="35.25" lengthAdjust="spacingAndGlyphs">60</text>
<text x="72.59" y="1053.30" font-size="31.21" textLength="34.31" lengthAdjust="spacingAndGlyphs">40</text>
<text x="72.13" y="1105.59" font-size="31.5" textLength="34.80" lengthAdjust="spacingAndGlyphs">20</text>
<line x1="117.50" y1="1160.50" x2="543.50" y2="1160.50" stroke="#000" stroke-width="2.2" />
<line x1="118.80" y1="1160.50" x2="118.80" y2="1163.80" stroke="#000" stroke-width="1.6" />
<line x1="157.00" y1="1160.50" x2="157.00" y2="1163.80" stroke="#000" stroke-width="1.6" />
<line x1="195.20" y1="1160.50" x2="195.20" y2="1163.80" stroke="#000" stroke-width="1.6" />
<line x1="233.40" y1="1160.50" x2="233.40" y2="1163.80" stroke="#000" stroke-width="1.6" />
<line x1="271.60" y1="1160.50" x2="271.60" y2="1163.80" stroke="#000" stroke-width="1.6" />
<line x1="309.80" y1="1160.50" x2="309.80" y2="1163.80" stroke="#000" stroke-width="1.6" />
<line x1="348.00" y1="1160.50" x2="348.00" y2="1163.80" stroke="#000" stroke-width="1.6" />
<line x1="386.20" y1="1160.50" x2="386.20" y2="1163.80" stroke="#000" stroke-width="1.6" />
<line x1="424.40" y1="1160.50" x2="424.40" y2="1163.80" stroke="#000" stroke-width="1.6" />
<line x1="462.60" y1="1160.50" x2="462.60" y2="1163.80" stroke="#000" stroke-width="1.6" />
<line x1="500.80" y1="1160.50" x2="500.80" y2="1163.80" stroke="#000" stroke-width="1.6" />
<line x1="539.00" y1="1160.50" x2="539.00" y2="1163.80" stroke="#000" stroke-width="1.6" />
<text x="149.72" y="1184.36" font-size="24.58" textLength="15.05" lengthAdjust="spacingAndGlyphs">8</text>
<text x="219.34" y="1184.36" font-size="24.58" textLength="28.56" lengthAdjust="spacingAndGlyphs">10</text>
<text x="296.05" y="1184.60" font-size="24.92" textLength="28.55" lengthAdjust="spacingAndGlyphs">12</text>
<text x="372.25" y="1184.60" font-size="25.29" textLength="28.50" lengthAdjust="spacingAndGlyphs">14</text>
<text x="449.93" y="1184.36" font-size="24.58" textLength="27.35" lengthAdjust="spacingAndGlyphs">16</text>
<text x="524.51" y="1184.36" font-size="24.58" textLength="29.02" lengthAdjust="spacingAndGlyphs">18</text>
<text x="204.84" y="1225.50" font-size="33" textLength="275.44" lengthAdjust="spacingAndGlyphs">photophase (h/day)</text>
<text x="0" y="0" font-size="33" textLength="159.88" lengthAdjust="spacingAndGlyphs" transform="translate(48.20,1099.78) rotate(-90)">diapause %</text>
<line x1="157.00" y1="898.72" x2="157.00" y2="930.09" stroke="#a4a4a6" stroke-width="1.8" />
<line x1="271.60" y1="982.00" x2="271.60" y2="1091.93" stroke="#a4a4a6" stroke-width="1.8" />
<line x1="309.80" y1="921.21" x2="309.80" y2="966.18" stroke="#a4a4a6" stroke-width="1.8" />
<line x1="386.20" y1="1078.05" x2="386.20" y2="1138.29" stroke="#a4a4a6" stroke-width="1.8" />
<line x1="157.00" y1="961.74" x2="157.00" y2="1005.60" stroke="#828282" stroke-width="1.8" />
<line x1="195.20" y1="973.40" x2="195.20" y2="1044.19" stroke="#828282" stroke-width="1.8" />
<line x1="233.40" y1="982.00" x2="233.40" y2="1078.89" stroke="#828282" stroke-width="1.8" />
<line x1="271.60" y1="1091.93" x2="271.60" y2="1138.01" stroke="#828282" stroke-width="1.8" />
<line x1="309.80" y1="1040.85" x2="309.80" y2="1084.44" stroke="#828282" stroke-width="1.8" />
<line x1="386.20" y1="1127.19" x2="386.20" y2="1160.50" stroke="#828282" stroke-width="1.8" />
<line x1="309.80" y1="930.65" x2="309.80" y2="997.27" stroke="#555555" stroke-width="1.8" />
<line x1="348.00" y1="882.90" x2="348.00" y2="1114.14" stroke="#555555" stroke-width="1.8" />
<line x1="386.20" y1="1039.74" x2="386.20" y2="1056.40" stroke="#555555" stroke-width="1.8" />
<line x1="157.00" y1="914.55" x2="195.20" y2="913.99" stroke="#a4a4a6" stroke-width="3.2" stroke-linecap="round" stroke-dasharray="7 13.4 0 11.3 0 14.3" stroke-dashoffset="-15.50"/>
<line x1="195.20" y1="913.99" x2="233.40" y2="882.90" stroke="#a4a4a6" stroke-width="3.2" stroke-linecap="round" stroke-dasharray="7 13.4 0 11.3 0 14.3" stroke-dashoffset="-15.50"/>
<line x1="233.40" y1="882.90" x2="271.60" y2="1049.18" stroke="#a4a4a6" stroke-width="3.2" stroke-linecap="round" stroke-dasharray="7 13.4 0 11.3 0 14.3" stroke-dashoffset="-15.50"/>
<line x1="271.60" y1="1049.18" x2="309.80" y2="942.58" stroke="#a4a4a6" stroke-width="3.2" stroke-linecap="round" stroke-dasharray="7 13.4 0 11.3 0 14.3" stroke-dashoffset="-15.50"/>
<line x1="309.80" y1="942.58" x2="348.00" y2="1026.14" stroke="#a4a4a6" stroke-width="3.2" stroke-linecap="round" stroke-dasharray="7 13.4 0 11.3 0 14.3" stroke-dashoffset="-15.50"/>
<line x1="348.00" y1="1026.14" x2="386.20" y2="1110.81" stroke="#a4a4a6" stroke-width="3.2" stroke-linecap="round" stroke-dasharray="7 13.4 0 11.3 0 14.3" stroke-dashoffset="-15.50"/>
<line x1="386.20" y1="1110.81" x2="424.40" y2="1160.50" stroke="#a4a4a6" stroke-width="3.2" stroke-linecap="round" stroke-dasharray="7 13.4 0 11.3 0 14.3" stroke-dashoffset="-15.50"/>
<line x1="424.40" y1="1160.50" x2="462.60" y2="1160.50" stroke="#a4a4a6" stroke-width="3.2" stroke-linecap="round" stroke-dasharray="7 13.4 0 11.3 0 14.3" stroke-dashoffset="-15.50"/>
<line x1="157.00" y1="985.61" x2="195.20" y2="1007.82" stroke="#828282" stroke-width="3.2" stroke-linecap="round" stroke-dasharray="0 12.6 7.2 13.5" stroke-dashoffset="-14.70"/>
<line x1="195.20" y1="1007.82" x2="233.40" y2="1030.58" stroke="#828282" stroke-width="3.2" stroke-linecap="round" stroke-dasharray="0 12.6 7.2 13.5" stroke-dashoffset="-14.70"/>
<line x1="233.40" y1="1030.58" x2="271.60" y2="1114.97" stroke="#828282" stroke-width="3.2" stroke-linecap="round" stroke-dasharray="0 12.6 7.2 13.5" stroke-dashoffset="-14.70"/>
<line x1="271.60" y1="1114.97" x2="309.80" y2="1062.78" stroke="#828282" stroke-width="3.2" stroke-linecap="round" stroke-dasharray="0 12.6 7.2 13.5" stroke-dashoffset="-14.70"/>
<line x1="309.80" y1="1062.78" x2="348.00" y2="1023.92" stroke="#828282" stroke-width="3.2" stroke-linecap="round" stroke-dasharray="0 12.6 7.2 13.5" stroke-dashoffset="-14.70"/>
<line x1="348.00" y1="1023.92" x2="386.20" y2="1138.57" stroke="#828282" stroke-width="3.2" stroke-linecap="round" stroke-dasharray="0 12.6 7.2 13.5" stroke-dashoffset="-14.70"/>
<line x1="386.20" y1="1138.57" x2="424.40" y2="1160.50" stroke="#828282" stroke-width="3.2" stroke-linecap="round" stroke-dasharray="0 12.6 7.2 13.5" stroke-dashoffset="-14.70"/>
<line x1="424.40" y1="1160.50" x2="462.60" y2="1160.50" stroke="#828282" stroke-width="3.2" stroke-linecap="round" stroke-dasharray="0 12.6 7.2 13.5" stroke-dashoffset="-14.70"/>
<line x1="157.00" y1="882.90" x2="195.20" y2="882.90" stroke="#555555" stroke-width="3.3" stroke-linecap="round" stroke-dasharray="7.6 10.7" stroke-dashoffset="-8.00"/>
<line x1="195.20" y1="882.90" x2="233.40" y2="882.90" stroke="#555555" stroke-width="3.3" stroke-linecap="round" stroke-dasharray="7.6 10.7" stroke-dashoffset="-8.00"/>
<line x1="233.40" y1="882.90" x2="271.60" y2="882.90" stroke="#555555" stroke-width="3.3" stroke-linecap="round" stroke-dasharray="7.6 10.7" stroke-dashoffset="-8.00"/>
<line x1="271.60" y1="882.90" x2="309.80" y2="964.51" stroke="#555555" stroke-width="3.3" stroke-linecap="round" stroke-dasharray="7.6 10.7" stroke-dashoffset="-8.00"/>
<line x1="309.80" y1="964.51" x2="348.00" y2="999.21" stroke="#555555" stroke-width="3.3" stroke-linecap="round" stroke-dasharray="7.6 10.7" stroke-dashoffset="-8.00"/>
<line x1="348.00" y1="999.21" x2="386.20" y2="1048.63" stroke="#555555" stroke-width="3.3" stroke-linecap="round" stroke-dasharray="7.6 10.7" stroke-dashoffset="-8.00"/>
<line x1="386.20" y1="1048.63" x2="424.40" y2="1160.50" stroke="#555555" stroke-width="3.3" stroke-linecap="round" stroke-dasharray="7.6 10.7" stroke-dashoffset="-8.00"/>
<line x1="424.40" y1="1160.50" x2="462.60" y2="1160.50" stroke="#555555" stroke-width="3.3" stroke-linecap="round" stroke-dasharray="7.6 10.7" stroke-dashoffset="-8.00"/>
<polyline points="157.00,882.90 195.20,882.90 233.40,882.90 271.60,882.90 309.80,882.90 348.00,882.90 386.20,882.90 424.40,882.90 462.60,882.90 500.80,1160.50 539.00,1160.50" fill="none" stroke="#000" stroke-width="3.4" stroke-linecap="round" stroke-linejoin="round" stroke-dasharray="6.6 13.4" />
<polyline points="157.00,882.90 195.20,882.90 233.40,882.90 271.60,882.90 309.80,882.90 348.00,882.90 386.20,889.28 424.40,882.90 462.60,928.70 500.80,1160.50 539.00,1160.50" fill="none" stroke="#000" stroke-width="3.8" stroke-linecap="round" stroke-linejoin="round" />
<rect x="152.25" y="909.80" width="9.50" height="9.50" fill="#fff" stroke="#a4a4a6" stroke-width="2.5" stroke-linejoin="round"/>
<rect x="190.45" y="909.24" width="9.50" height="9.50" fill="#fff" stroke="#a4a4a6" stroke-width="2.5" stroke-linejoin="round"/>
<rect x="228.65" y="878.15" width="9.50" height="9.50" fill="#fff" stroke="#a4a4a6" stroke-width="2.5" stroke-linejoin="round"/>
<rect x="266.85" y="1044.43" width="9.50" height="9.50" fill="#fff" stroke="#a4a4a6" stroke-width="2.5" stroke-linejoin="round"/>
<rect x="305.05" y="937.83" width="9.50" height="9.50" fill="#fff" stroke="#a4a4a6" stroke-width="2.5" stroke-linejoin="round"/>
<rect x="343.25" y="1021.39" width="9.50" height="9.50" fill="#fff" stroke="#a4a4a6" stroke-width="2.5" stroke-linejoin="round"/>
<rect x="381.45" y="1106.06" width="9.50" height="9.50" fill="#fff" stroke="#a4a4a6" stroke-width="2.5" stroke-linejoin="round"/>
<polygon points="157.00,981.21 161.40,985.61 157.00,990.01 152.60,985.61" fill="#fff" stroke="#828282" stroke-width="2.6" stroke-linejoin="round"/>
<polygon points="195.20,1003.42 199.60,1007.82 195.20,1012.22 190.80,1007.82" fill="#fff" stroke="#828282" stroke-width="2.6" stroke-linejoin="round"/>
<polygon points="233.40,1026.18 237.80,1030.58 233.40,1034.98 229.00,1030.58" fill="#fff" stroke="#828282" stroke-width="2.6" stroke-linejoin="round"/>
<polygon points="271.60,1110.57 276.00,1114.97 271.60,1119.37 267.20,1114.97" fill="#fff" stroke="#828282" stroke-width="2.6" stroke-linejoin="round"/>
<polygon points="309.80,1058.38 314.20,1062.78 309.80,1067.18 305.40,1062.78" fill="#fff" stroke="#828282" stroke-width="2.6" stroke-linejoin="round"/>
<polygon points="348.00,1019.52 352.40,1023.92 348.00,1028.32 343.60,1023.92" fill="#fff" stroke="#828282" stroke-width="2.6" stroke-linejoin="round"/>
<polygon points="386.20,1134.17 390.60,1138.57 386.20,1142.97 381.80,1138.57" fill="#fff" stroke="#828282" stroke-width="2.6" stroke-linejoin="round"/>
<polygon points="195.20,877.43 190.40,886.55 200.00,886.55" fill="#fff" stroke="#555555" stroke-width="2.5" stroke-linejoin="round"/>
<polygon points="309.80,959.04 305.00,968.16 314.60,968.16" fill="#fff" stroke="#555555" stroke-width="2.5" stroke-linejoin="round"/>
<polygon points="348.00,993.74 343.20,1002.86 352.80,1002.86" fill="#fff" stroke="#555555" stroke-width="2.5" stroke-linejoin="round"/>
<polygon points="386.20,1043.16 381.40,1052.28 391.00,1052.28" fill="#fff" stroke="#555555" stroke-width="2.5" stroke-linejoin="round"/>
<rect x="419.30" y="1155.40" width="10.20" height="10.20" fill="#7a7a7a" stroke="#8c8c8c" stroke-width="2.0" stroke-linejoin="round"/>
<polygon points="424.40,1155.72 420.65,1162.85 428.15,1162.85" fill="#6a6a6a" stroke="#555" stroke-width="2.0" stroke-linejoin="round"/>
<rect x="457.50" y="1155.40" width="10.20" height="10.20" fill="#7a7a7a" stroke="#8c8c8c" stroke-width="2.0" stroke-linejoin="round"/>
<polygon points="462.60,1155.72 458.85,1162.85 466.35,1162.85" fill="#6a6a6a" stroke="#555" stroke-width="2.0" stroke-linejoin="round"/>
<circle cx="157.00" cy="882.90" r="6.00" fill="#000" stroke="none" stroke-width="0"/>
<circle cx="309.80" cy="882.90" r="6.00" fill="#000" stroke="none" stroke-width="0"/>
<circle cx="348.00" cy="882.90" r="6.00" fill="#000" stroke="none" stroke-width="0"/>
<circle cx="424.40" cy="882.90" r="6.00" fill="#000" stroke="none" stroke-width="0"/>
<rect x="228.30" y="877.80" width="10.20" height="10.20" fill="#9a9a9a" stroke="#8a8a8a" stroke-width="2.0" stroke-linejoin="round"/>
<circle cx="233.40" cy="882.90" r="3.00" fill="#000" stroke="none" stroke-width="0"/>
<line x1="163.00" y1="882.90" x2="226.90" y2="882.90" stroke="#000" stroke-width="3.8" />
<circle cx="271.60" cy="882.90" r="4.90" fill="none" stroke="#000" stroke-width="2.4"/>
<circle cx="386.20" cy="882.90" r="5.00" fill="#fff" stroke="#000" stroke-width="2.6"/>
<line x1="386.20" y1="883.50" x2="386.20" y2="893.50" stroke="#000" stroke-width="2.0" />
<circle cx="386.20" cy="889.40" r="3.30" fill="#000" stroke="none" stroke-width="0"/>
<circle cx="462.60" cy="882.90" r="5.00" fill="#fff" stroke="#000" stroke-width="2.4"/>
<line x1="462.60" y1="918.99" x2="462.60" y2="938.42" stroke="#000" stroke-width="1.8" />
<circle cx="462.60" cy="928.70" r="3.40" fill="#000" stroke="none" stroke-width="0"/>
<circle cx="500.80" cy="1160.50" r="6.00" fill="#000" stroke="none" stroke-width="0"/>
<circle cx="539.00" cy="1160.50" r="6.00" fill="#000" stroke="none" stroke-width="0"/>
<line x1="527.80" y1="901.80" x2="555.60" y2="901.80" stroke="#000" stroke-width="3.8" />
<circle cx="541.70" cy="901.80" r="2.80" fill="#000" stroke="none" stroke-width="0"/>
<line x1="527.80" y1="932.60" x2="555.60" y2="932.60" stroke="#000" stroke-width="3.8" />
<circle cx="541.70" cy="932.60" r="4.30" fill="#fff" stroke="#000" stroke-width="2.2"/>
<line x1="527.80" y1="971.40" x2="555.60" y2="971.40" stroke="#555555" stroke-width="3.4" />
<polygon points="541.70,966.13 536.90,975.25 546.50,975.25" fill="#fff" stroke="#555555" stroke-width="2.2" stroke-linejoin="round"/>
<line x1="527.80" y1="1013.30" x2="549.50" y2="1013.30" stroke="#828282" stroke-width="3.4" />
<polygon points="541.70,1008.70 546.30,1013.30 541.70,1017.90 537.10,1013.30" fill="#fff" stroke="#828282" stroke-width="2.4" stroke-linejoin="round"/>
<circle cx="550.50" cy="1013.30" r="1.90" fill="#828282" stroke="none" stroke-width="0"/>
<line x1="527.80" y1="1054.80" x2="549.50" y2="1054.80" stroke="#a4a4a6" stroke-width="3.4" />
<rect x="536.90" y="1050.00" width="9.60" height="9.60" fill="#fff" stroke="#a4a4a6" stroke-width="2.3" stroke-linejoin="round"/>
<text x="562.98" y="907.70" font-size="19.5" font-weight="bold" textLength="30.13" lengthAdjust="spacingAndGlyphs" stroke="#000" stroke-width="0.45" stroke-linejoin="round">WT</text>
<text x="563.12" y="935.60" font-size="20" font-weight="bold" font-style="italic" textLength="29.50" lengthAdjust="spacingAndGlyphs" stroke="#000" stroke-width="0.45" stroke-linejoin="round">pdf</text>
<text x="598.25" y="927.20" font-size="17.5" font-weight="bold" font-style="italic" textLength="47.73" lengthAdjust="spacingAndGlyphs" stroke="#000" stroke-width="0.45" stroke-linejoin="round">RK-/-</text>
<text x="567.02" y="974.70" font-size="20" font-weight="bold" font-style="italic" textLength="29.59" lengthAdjust="spacingAndGlyphs" stroke="#000" stroke-width="0.45" stroke-linejoin="round">pdf</text>
<text x="600.37" y="965.00" font-size="17.5" font-weight="bold" font-style="italic" textLength="52.27" lengthAdjust="spacingAndGlyphs" stroke="#000" stroke-width="0.45" stroke-linejoin="round">05 -/-</text>
<text x="565.62" y="1017.40" font-size="20" font-weight="bold" font-style="italic" textLength="29.59" lengthAdjust="spacingAndGlyphs" stroke="#000" stroke-width="0.45" stroke-linejoin="round">pdf</text>
<text x="600.36" y="1008.00" font-size="17.5" font-weight="bold" font-style="italic" textLength="46.59" lengthAdjust="spacingAndGlyphs" stroke="#000" stroke-width="0.45" stroke-linejoin="round">04-/-</text>
<text x="565.62" y="1059.20" font-size="20" font-weight="bold" font-style="italic" textLength="29.59" lengthAdjust="spacingAndGlyphs" stroke="#000" stroke-width="0.45" stroke-linejoin="round">pdf</text>
<text x="599.53" y="1050.00" font-size="17.5" font-weight="bold" font-style="italic" textLength="55.67" lengthAdjust="spacingAndGlyphs" stroke="#000" stroke-width="0.45" stroke-linejoin="round">03L-/-</text>
<line x1="772.00" y1="879.00" x2="772.00" y2="1162.00" stroke="#000" stroke-width="2.2" />
<line x1="768.00" y1="1105.26" x2="772.00" y2="1105.26" stroke="#000" stroke-width="1.8" />
<line x1="768.00" y1="1049.72" x2="772.00" y2="1049.72" stroke="#000" stroke-width="1.8" />
<line x1="768.00" y1="994.18" x2="772.00" y2="994.18" stroke="#000" stroke-width="1.8" />
<line x1="768.00" y1="938.64" x2="772.00" y2="938.64" stroke="#000" stroke-width="1.8" />
<line x1="768.00" y1="883.10" x2="772.00" y2="883.10" stroke="#000" stroke-width="1.8" />
<text x="717.20" y="893.40" font-size="31.21" textLength="50.27" lengthAdjust="spacingAndGlyphs">100</text>
<text x="733.37" y="948.60" font-size="31.21" textLength="34.13" lengthAdjust="spacingAndGlyphs">80</text>
<text x="732.50" y="1004.88" font-size="32.63" textLength="35.03" lengthAdjust="spacingAndGlyphs">60</text>
<text x="734.01" y="1060.19" font-size="32.06" textLength="33.47" lengthAdjust="spacingAndGlyphs">40</text>
<text x="733.92" y="1114.51" font-size="29.24" textLength="32.84" lengthAdjust="spacingAndGlyphs">20</text>
<line x1="770.80" y1="1160.80" x2="1196.70" y2="1160.80" stroke="#000" stroke-width="2.2" />
<line x1="771.50" y1="1160.80" x2="771.50" y2="1164.00" stroke="#000" stroke-width="1.6" />
<line x1="809.70" y1="1160.80" x2="809.70" y2="1164.00" stroke="#000" stroke-width="1.6" />
<line x1="847.90" y1="1160.80" x2="847.90" y2="1164.00" stroke="#000" stroke-width="1.6" />
<line x1="886.10" y1="1160.80" x2="886.10" y2="1164.00" stroke="#000" stroke-width="1.6" />
<line x1="924.30" y1="1160.80" x2="924.30" y2="1164.00" stroke="#000" stroke-width="1.6" />
<line x1="962.50" y1="1160.80" x2="962.50" y2="1164.00" stroke="#000" stroke-width="1.6" />
<line x1="1000.70" y1="1160.80" x2="1000.70" y2="1164.00" stroke="#000" stroke-width="1.6" />
<line x1="1038.90" y1="1160.80" x2="1038.90" y2="1164.00" stroke="#000" stroke-width="1.6" />
<line x1="1077.10" y1="1160.80" x2="1077.10" y2="1164.00" stroke="#000" stroke-width="1.6" />
<line x1="1115.30" y1="1160.80" x2="1115.30" y2="1164.00" stroke="#000" stroke-width="1.6" />
<line x1="1153.50" y1="1160.80" x2="1153.50" y2="1164.00" stroke="#000" stroke-width="1.6" />
<line x1="1191.70" y1="1160.80" x2="1191.70" y2="1164.00" stroke="#000" stroke-width="1.6" />
<text x="802.72" y="1184.55" font-size="25.14" textLength="15.05" lengthAdjust="spacingAndGlyphs">8</text>
<text x="873.55" y="1184.55" font-size="25.14" textLength="25.55" lengthAdjust="spacingAndGlyphs">10</text>
<text x="949.66" y="1184.80" font-size="25.49" textLength="26.85" lengthAdjust="spacingAndGlyphs">12</text>
<text x="1025.36" y="1184.80" font-size="25.87" textLength="28.39" lengthAdjust="spacingAndGlyphs">14</text>
<text x="1101.63" y="1184.55" font-size="25.14" textLength="28.81" lengthAdjust="spacingAndGlyphs">16</text>
<text x="1177.03" y="1184.55" font-size="25.14" textLength="28.80" lengthAdjust="spacingAndGlyphs">18</text>
<text x="844.15" y="1225.50" font-size="33" textLength="274.33" lengthAdjust="spacingAndGlyphs">photophase (h/day)</text>
<line x1="809.70" y1="1016.40" x2="809.70" y2="1149.97" stroke="#606060" stroke-width="1.8" />
<line x1="847.90" y1="1109.98" x2="847.90" y2="1155.52" stroke="#606060" stroke-width="1.8" />
<line x1="886.10" y1="1038.33" x2="886.10" y2="1144.14" stroke="#606060" stroke-width="1.8" />
<line x1="924.30" y1="1099.71" x2="924.30" y2="1152.47" stroke="#606060" stroke-width="1.8" />
<line x1="847.90" y1="1063.05" x2="847.90" y2="1110.81" stroke="#a8a8a8" stroke-width="1.8" />
<line x1="886.10" y1="1133.03" x2="886.10" y2="1148.30" stroke="#a8a8a8" stroke-width="1.8" />
<line x1="809.70" y1="1067.22" x2="847.90" y2="1095.26" stroke="#a8a8a8" stroke-width="2.7" stroke-linecap="round" stroke-dasharray="5.9 12.4" stroke-dashoffset="-9.00"/>
<line x1="847.90" y1="1095.26" x2="886.10" y2="1120.26" stroke="#a8a8a8" stroke-width="2.7" stroke-linecap="round" stroke-dasharray="5.9 12.4" stroke-dashoffset="-9.00"/>
<line x1="886.10" y1="1120.26" x2="924.30" y2="1160.80" stroke="#a8a8a8" stroke-width="2.7" stroke-linecap="round" stroke-dasharray="5.9 12.4" stroke-dashoffset="-9.00"/>
<line x1="924.30" y1="1160.80" x2="962.50" y2="1160.80" stroke="#a8a8a8" stroke-width="2.7" stroke-linecap="round" stroke-dasharray="5.9 12.4" stroke-dashoffset="-9.00"/>
<line x1="962.50" y1="1160.80" x2="1000.70" y2="1160.80" stroke="#a8a8a8" stroke-width="2.7" stroke-linecap="round" stroke-dasharray="5.9 12.4" stroke-dashoffset="-9.00"/>
<line x1="1000.70" y1="1160.80" x2="1038.90" y2="1160.80" stroke="#a8a8a8" stroke-width="2.7" stroke-linecap="round" stroke-dasharray="5.9 12.4" stroke-dashoffset="-9.00"/>
<line x1="1038.90" y1="1160.80" x2="1077.10" y2="1160.80" stroke="#a8a8a8" stroke-width="2.7" stroke-linecap="round" stroke-dasharray="5.9 12.4" stroke-dashoffset="-9.00"/>
<line x1="1077.10" y1="1160.80" x2="1115.30" y2="1160.80" stroke="#a8a8a8" stroke-width="2.7" stroke-linecap="round" stroke-dasharray="5.9 12.4" stroke-dashoffset="-9.00"/>
<line x1="1115.30" y1="1160.80" x2="1153.50" y2="1160.80" stroke="#a8a8a8" stroke-width="2.7" stroke-linecap="round" stroke-dasharray="5.9 12.4" stroke-dashoffset="-9.00"/>
<line x1="809.70" y1="1083.32" x2="847.90" y2="1132.75" stroke="#606060" stroke-width="3.1" stroke-linecap="round" stroke-dasharray="7.6 13.1" stroke-dashoffset="-6.00"/>
<line x1="847.90" y1="1132.75" x2="886.10" y2="1091.10" stroke="#606060" stroke-width="3.1" stroke-linecap="round" stroke-dasharray="7.6 13.1" stroke-dashoffset="-6.00"/>
<line x1="886.10" y1="1091.10" x2="924.30" y2="1126.09" stroke="#606060" stroke-width="3.1" stroke-linecap="round" stroke-dasharray="7.6 13.1" stroke-dashoffset="-6.00"/>
<line x1="924.30" y1="1126.09" x2="962.50" y2="1160.80" stroke="#606060" stroke-width="3.1" stroke-linecap="round" stroke-dasharray="7.6 13.1" stroke-dashoffset="-6.00"/>
<line x1="962.50" y1="1160.80" x2="1000.70" y2="1160.80" stroke="#606060" stroke-width="3.1" stroke-linecap="round" stroke-dasharray="7.6 13.1" stroke-dashoffset="-6.00"/>
<line x1="1000.70" y1="1160.80" x2="1038.90" y2="1160.80" stroke="#606060" stroke-width="3.1" stroke-linecap="round" stroke-dasharray="7.6 13.1" stroke-dashoffset="-6.00"/>
<line x1="1038.90" y1="1160.80" x2="1077.10" y2="1160.80" stroke="#606060" stroke-width="3.1" stroke-linecap="round" stroke-dasharray="7.6 13.1" stroke-dashoffset="-6.00"/>
<line x1="1077.10" y1="1160.80" x2="1115.30" y2="1160.80" stroke="#606060" stroke-width="3.1" stroke-linecap="round" stroke-dasharray="7.6 13.1" stroke-dashoffset="-6.00"/>
<line x1="1115.30" y1="1160.80" x2="1153.50" y2="1160.80" stroke="#606060" stroke-width="3.1" stroke-linecap="round" stroke-dasharray="7.6 13.1" stroke-dashoffset="-6.00"/>
<polygon points="809.70,1061.63 804.80,1070.94 814.60,1070.94" fill="#fff" stroke="#a8a8a8" stroke-width="2.1" stroke-linejoin="round"/>
<polygon points="847.90,1089.68 843.00,1098.99 852.80,1098.99" fill="#fff" stroke="#a8a8a8" stroke-width="2.1" stroke-linejoin="round"/>
<polygon points="886.10,1114.67 881.20,1123.98 891.00,1123.98" fill="#fff" stroke="#a8a8a8" stroke-width="2.1" stroke-linejoin="round"/>
<polygon points="924.30,1155.21 919.40,1164.52 929.20,1164.52" fill="#fff" stroke="#a8a8a8" stroke-width="2.1" stroke-linejoin="round"/>
<circle cx="809.70" cy="1083.32" r="4.60" fill="#fff" stroke="#505050" stroke-width="2.4"/>
<circle cx="847.90" cy="1132.75" r="4.60" fill="#fff" stroke="#505050" stroke-width="2.4"/>
<circle cx="886.10" cy="1091.10" r="4.60" fill="#fff" stroke="#505050" stroke-width="2.4"/>
<circle cx="924.30" cy="1126.09" r="4.60" fill="#fff" stroke="#505050" stroke-width="2.4"/>
<circle cx="962.50" cy="1160.80" r="4.60" fill="#a8a8a8" stroke="#666" stroke-width="2.4"/>
<circle cx="1000.70" cy="1160.80" r="4.60" fill="#a8a8a8" stroke="#666" stroke-width="2.4"/>
<circle cx="1038.90" cy="1160.80" r="4.60" fill="#a8a8a8" stroke="#666" stroke-width="2.4"/>
<circle cx="1077.10" cy="1160.80" r="4.60" fill="#a8a8a8" stroke="#666" stroke-width="2.4"/>
<circle cx="1115.30" cy="1160.80" r="4.60" fill="#a8a8a8" stroke="#666" stroke-width="2.4"/>
<circle cx="1153.50" cy="1160.80" r="4.60" fill="#a8a8a8" stroke="#666" stroke-width="2.4"/>
<circle cx="1191.70" cy="1160.80" r="4.60" fill="#a8a8a8" stroke="#666" stroke-width="2.4"/>
<line x1="962.50" y1="1160.30" x2="962.50" y2="1163.30" stroke="#111" stroke-width="1.6" />
<line x1="1000.70" y1="1160.30" x2="1000.70" y2="1163.30" stroke="#111" stroke-width="1.6" />
<line x1="1038.90" y1="1160.30" x2="1038.90" y2="1163.30" stroke="#111" stroke-width="1.6" />
<line x1="1077.10" y1="1160.30" x2="1077.10" y2="1163.30" stroke="#111" stroke-width="1.6" />
<line x1="1115.30" y1="1160.30" x2="1115.30" y2="1163.30" stroke="#111" stroke-width="1.6" />
<line x1="818.30" y1="883.10" x2="839.30" y2="883.10" stroke="#000" stroke-width="3.6" />
<line x1="856.50" y1="883.10" x2="877.50" y2="883.10" stroke="#000" stroke-width="3.6" />
<line x1="894.70" y1="883.10" x2="915.70" y2="883.10" stroke="#000" stroke-width="3.6" />
<line x1="932.90" y1="883.10" x2="953.90" y2="883.10" stroke="#000" stroke-width="3.6" />
<line x1="971.10" y1="883.10" x2="992.10" y2="883.10" stroke="#000" stroke-width="3.6" />
<line x1="1009.28" y1="883.72" x2="1030.32" y2="885.25" stroke="#000" stroke-width="3.6" />
<line x1="1047.48" y1="885.25" x2="1068.52" y2="883.72" stroke="#000" stroke-width="3.6" />
<line x1="1083.94" y1="888.32" x2="1108.46" y2="907.04" stroke="#000" stroke-width="3.6" />
<line x1="1116.61" y1="920.76" x2="1152.19" y2="1152.30" stroke="#000" stroke-width="3.6" />
<line x1="1159.50" y1="1160.80" x2="1185.70" y2="1160.80" stroke="#000" stroke-width="3.6" />
<circle cx="809.70" cy="883.10" r="3.30" fill="#000" stroke="none" stroke-width="0"/>
<circle cx="847.90" cy="883.10" r="3.30" fill="#000" stroke="none" stroke-width="0"/>
<circle cx="886.10" cy="883.10" r="3.30" fill="#000" stroke="none" stroke-width="0"/>
<circle cx="924.30" cy="883.10" r="3.30" fill="#000" stroke="none" stroke-width="0"/>
<circle cx="962.50" cy="883.10" r="3.30" fill="#000" stroke="none" stroke-width="0"/>
<circle cx="1000.70" cy="883.10" r="3.30" fill="#000" stroke="none" stroke-width="0"/>
<circle cx="1038.90" cy="885.88" r="3.30" fill="#000" stroke="none" stroke-width="0"/>
<circle cx="1077.10" cy="883.10" r="3.30" fill="#000" stroke="none" stroke-width="0"/>
<circle cx="1115.30" cy="912.26" r="3.30" fill="#000" stroke="none" stroke-width="0"/>
<line x1="1115.30" y1="899.76" x2="1115.30" y2="923.37" stroke="#000" stroke-width="1.8" />
<circle cx="1153.50" cy="1160.80" r="3.40" fill="#000" stroke="none" stroke-width="0"/>
<circle cx="1191.70" cy="1160.80" r="4.00" fill="#000" stroke="none" stroke-width="0"/>
<line x1="1146.70" y1="901.30" x2="1173.90" y2="901.30" stroke="#000" stroke-width="3.8" />
<circle cx="1160.50" cy="901.30" r="2.90" fill="#000" stroke="none" stroke-width="0"/>
<line x1="1146.70" y1="936.40" x2="1173.90" y2="936.40" stroke="#606060" stroke-width="4.0" />
<circle cx="1160.00" cy="936.40" r="4.60" fill="#fff" stroke="#555" stroke-width="2.4"/>
<line x1="1146.70" y1="970.60" x2="1173.90" y2="970.60" stroke="#a8a8a8" stroke-width="4.0" />
<polygon points="1160.50,965.21 1155.60,974.52 1165.40,974.52" fill="#fff" stroke="#a8a8a8" stroke-width="2.2" stroke-linejoin="round"/>
<text x="1180.58" y="907.40" font-size="19.5" font-weight="bold" textLength="30.73" lengthAdjust="spacingAndGlyphs" stroke="#000" stroke-width="0.45" stroke-linejoin="round">WT</text>
<text x="1176.32" y="938.50" font-size="19.5" font-weight="bold" font-style="italic" textLength="51.67" lengthAdjust="spacingAndGlyphs" stroke="#000" stroke-width="0.45" stroke-linejoin="round">cry-m</text>
<text x="1228.49" y="929.80" font-size="17" font-weight="bold" font-style="italic" textLength="40.28" lengthAdjust="spacingAndGlyphs" stroke="#000" stroke-width="0.45" stroke-linejoin="round">04-/-</text>
<text x="1176.82" y="973.60" font-size="19.5" font-weight="bold" font-style="italic" textLength="51.67" lengthAdjust="spacingAndGlyphs" stroke="#000" stroke-width="0.45" stroke-linejoin="round">cry-m</text>
<text x="1230.36" y="964.60" font-size="16.5" font-weight="bold" font-style="italic" textLength="45.09" lengthAdjust="spacingAndGlyphs" stroke="#000" stroke-width="0.45" stroke-linejoin="round">9in-/-</text>
</svg>
</body></html>
